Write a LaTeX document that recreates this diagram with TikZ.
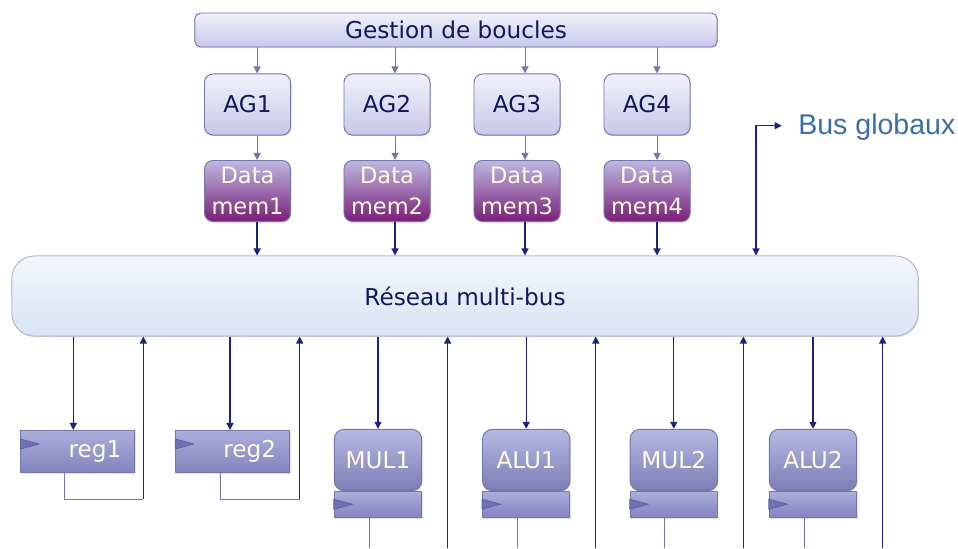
\documentclass[tikz,border=0pt]{standalone}
\usepackage{fontspec}
\setmainfont{DejaVu Sans}
\newfontfamily\busfont{Liberation Sans}
\usetikzlibrary{arrows.meta,positioning,shadows}

\definecolor{dkline}{HTML}{1A237E}
\definecolor{ltline}{HTML}{7378AA}
\definecolor{ink}{HTML}{0E1A5C}
\definecolor{cream}{HTML}{FFFBE3}
\definecolor{busblue}{HTML}{3B6EA5}

\tikzset{
  >={Triangle[length=5pt,width=5pt]},
  shd/.style={drop shadow={shadow xshift=0.6pt,shadow yshift=-0.8pt,opacity=0.25}},
  ctrl/.style={draw=ltline, line width=0.7pt, rounded corners=4pt, top color=ctrltop, bottom color=ctrlbot,
    text=ink, font=\fontsize{16.5}{20}\selectfont, shd},
  agbox/.style={ctrl, rounded corners=6pt, minimum width=2.15cm, minimum height=1.525cm},
  membox/.style={agbox, top color=memtop, bottom color=membot, text=cream, align=center,
    font=\fontsize{16}{22.5}\selectfont},
  busbox/.style={ctrl, draw=busedge, rounded corners=16pt, top color=bustop, bottom color=busbot,
    minimum width=22.65cm, minimum height=2cm},
  unitbox/.style={ctrl, rounded corners=7pt, top color=unittop, bottom color=unitbot, text=cream,
    minimum width=2.185cm, minimum height=1.535cm},
  barbox/.style={ctrl, sharp corners, top color=bartop, bottom color=barbot,
    minimum width=2.185cm, minimum height=0.65cm},
  regbox/.style={barbox, text=cream, minimum height=1.05cm, text width=2.17cm, inner xsep=0.34cm, align=right},
  clk/.style={fill=clkfill, draw=clkedge, line width=0.5pt},
  dk/.style={draw=dkline, line width=0.9pt},
  lt/.style={draw=ltline, line width=0.7pt}
}
\definecolor{ctrltop}{HTML}{F1F1FB}
\definecolor{ctrlbot}{HTML}{C8C8E9}
\definecolor{memtop}{HTML}{BDB8E0}
\definecolor{membot}{HTML}{7A1E79}
\definecolor{bustop}{HTML}{F3F6FC}
\definecolor{busbot}{HTML}{DAE4F4}
\definecolor{busedge}{HTML}{AFB9CC}
\definecolor{unittop}{HTML}{B6B8E2}
\definecolor{unitbot}{HTML}{7B7DB6}
\definecolor{bartop}{HTML}{ABADDB}
\definecolor{barbot}{HTML}{8184BE}
\definecolor{clkfill}{HTML}{6E71B3}
\definecolor{clkedge}{HTML}{5B5E9E}

% little clock mark on the left edge of a register
\newcommand{\clocktri}[2]{\filldraw[clk] ([yshift=-#2]#1.north west) -- ++(0.46cm,-0.125cm) -- ++(-0.46cm,-0.125cm) -- cycle;}

\begin{document}
\begin{tikzpicture}[x=0.025cm,y=0.025cm]
\useasboundingbox (0,0) rectangle (958,548);
\coordinate (bot) at (0,0);

% control part
\node[ctrl, minimum width=13.05cm, minimum height=0.85cm] (gb) at (456,518) {Gestion de boucles};
\node[agbox] (ag1) at (247.5,443.5) {AG1};
\node[agbox] (ag2) at (387,443.5) {AG2};
\node[agbox] (ag3) at (517,443.5) {AG3};
\node[agbox] (ag4) at (647,443.5) {AG4};
\node[membox] (dm1) at (247.5,357) {Data\\mem1};
\node[membox] (dm2) at (387,357) {Data\\mem2};
\node[membox] (dm3) at (517,357) {Data\\mem3};
\node[membox] (dm4) at (647,357) {Data\\mem4};

\node[busbox] (bus) at (465,252) {Réseau multi-bus};

\coordinate (c1) at ([xshift=0.24cm]ag1.center);
\coordinate (c2) at ([xshift=0.2cm]ag2.center);
\coordinate (c3) at ([xshift=0.2cm]ag3.center);
\coordinate (c4) at ([xshift=0.25cm]ag4.center);
\draw[lt,->] (gb.south -| c1) -- (ag1.north -| c1);
\draw[lt,->] (gb.south -| c2) -- (ag2.north -| c2);
\draw[lt,->] (gb.south -| c3) -- (ag3.north -| c3);
\draw[lt,->] (gb.south -| c4) -- (ag4.north -| c4);
\draw[lt,->] (ag1.south -| c1) -- (dm1.north -| c1);
\draw[lt,->] (ag2.south -| c2) -- (dm2.north -| c2);
\draw[lt,->] (ag3.south -| c3) -- (dm3.north -| c3);
\draw[lt,->] (ag4.south -| c4) -- (dm4.north -| c4);
\draw[dk,->] (dm1.south -| c1) -- (bus.north -| c1);
\draw[dk,->] (dm2.south -| c2) -- (bus.north -| c2);
\draw[dk,->] (dm3.south -| c3) -- (bus.north -| c3);
\draw[dk,->] (dm4.south -| c4) -- (bus.north -| c4);

% global buses
\node[anchor=base west, inner sep=0pt, text=busblue, font=\busfont\fontsize{20.3}{24}\selectfont] (bg) at (798,413) {Bus globaux};
\coordinate (bgc) at (756,422.3);
\coordinate (bge) at (781.7,422.3);
\draw[dk,<->] (bus.north -| bgc) -- (bgc) -- (bge);

% registers
\node[regbox] (reg1) at (77.9,96.5) {reg1};
\node[regbox] (reg2) at (232.8,96.5) {reg2};
\clocktri{reg1}{0.225cm}
\clocktri{reg2}{0.225cm}
\coordinate (r1i) at ([xshift=-0.115cm]reg1.north);
\coordinate (r2i) at ([xshift=-0.07cm]reg2.north);
\draw[dk,->] (bus.south -| r1i) -- (r1i);
\draw[dk,->] (bus.south -| r2i) -- (r2i);
\coordinate (r1c) at (143.3,48.7);
\coordinate (r2c) at (299.7,48.7);
\draw[lt] ([xshift=-0.34cm]reg1.south) |- (r1c);
\draw[lt] ([xshift=-0.3cm]reg2.south) |- (r2c);
\draw[dk,->] (r1c) -- (r1c |- bus.south);
\draw[dk,->] (r2c) -- (r2c |- bus.south);

% operators
\node[barbox] (mul1b) at (378,43.3) {};
\node[barbox] (alu1b) at (526.2,43.3) {};
\node[barbox] (mul2b) at (673.8,43.3) {};
\node[barbox] (alu2b) at (813,43.3) {};
\node[unitbox, above=0pt of mul1b] (mul1) {MUL1};
\node[unitbox, above=0pt of alu1b] (alu1) {ALU1};
\node[unitbox, above=0pt of mul2b] (mul2) {MUL2};
\node[unitbox, above=0pt of alu2b] (alu2) {ALU2};
\clocktri{mul1b}{0.2cm}
\clocktri{alu1b}{0.2cm}
\clocktri{mul2b}{0.2cm}
\clocktri{alu2b}{0.2cm}

\draw[dk,->] (bus.south -| mul1.north) -- (mul1.north);
\draw[dk,->] (bus.south -| alu1.north) -- (alu1.north);
\draw[dk,->] (bus.south -| mul2.north) -- (mul2.north);
\draw[dk,->] (bus.south -| alu2.north) -- (alu2.north);

\coordinate (m1o) at ([xshift=-0.225cm]mul1b.south);
\coordinate (a1o) at ([xshift=-0.225cm]alu1b.south);
\coordinate (m2o) at ([xshift=-0.225cm]mul2b.south);
\coordinate (a2o) at ([xshift=-0.225cm]alu2b.south);
\draw[lt] (m1o) -- (m1o |- bot);
\draw[lt] (a1o) -- (a1o |- bot);
\draw[lt] (m2o) -- (m2o |- bot);
\draw[lt] (a2o) -- (a2o |- bot);

\coordinate (m1r) at ([xshift=1.74cm]mul1b.south);
\coordinate (a1r) at ([xshift=1.74cm]alu1b.south);
\coordinate (m2r) at ([xshift=1.74cm]mul2b.south);
\coordinate (a2r) at ([xshift=1.74cm]alu2b.south);
\draw[dk,->] (m1r |- bot) -- (m1r |- bus.south);
\draw[dk,->] (a1r |- bot) -- (a1r |- bus.south);
\draw[dk,->] (m2r |- bot) -- (m2r |- bus.south);
\draw[dk,->] (a2r |- bot) -- (a2r |- bus.south);
\end{tikzpicture}
\end{document}
